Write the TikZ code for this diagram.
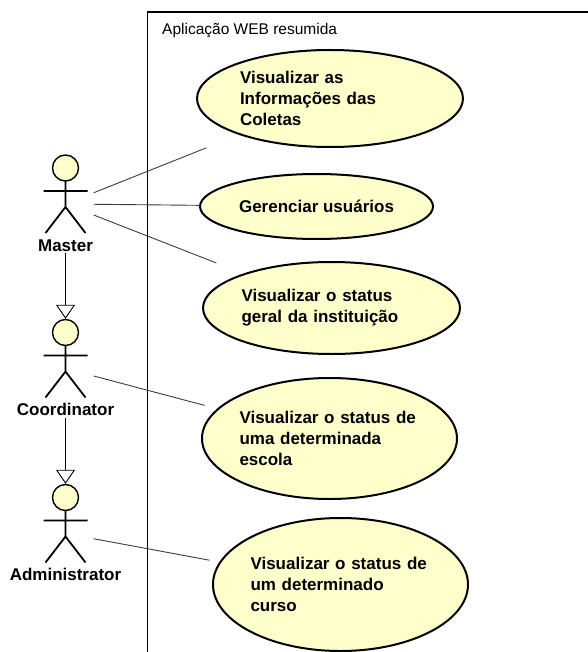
\documentclass[tikz,border=0pt]{standalone}
\usepackage{fontspec}
\setmainfont{Liberation Sans}
\usetikzlibrary{shapes, arrows.meta, positioning}
\definecolor{ucfill}{RGB}{255,255,204}
\definecolor{assocgray}{RGB}{60,60,60}

\begin{document}
\begin{tikzpicture}[
x=1pt, y=-1pt,
usecase/.style={ellipse, draw=black, line width=2pt, fill=ucfill, inner sep=0pt,
font=\fontsize{17}{21}\selectfont\bfseries},
usecase-long/.style={usecase, text width=180pt, align=left},
head/.style={circle, draw=black, line width=1.4pt, fill=ucfill, minimum size=26pt, inner sep=0pt},
actor-body/.style={rectangle, minimum width=56pt, minimum height=80pt},
actor-name/.style={anchor=base, inner sep=2pt, font=\fontsize{17}{21}\selectfont\bfseries},
stick/.style={draw, line width=1.8pt},
actor/.pic={
\node [head] (-head) at (0,0) {};
\node [actor-body] (-body) at (0,36) {};
\node [actor-name] (-label) at (0,83) {#1};
\draw [stick] (0,13) -- (0,39) (-22,23) -- (22,23) (-20,65) -- (0,39) -- (20,65);
},
assoc/.style={draw=assocgray, line width=0.9pt},
gen/.style={draw, line width=0.9pt, -{Triangle[open, length=14pt, width=19pt]}},
boundary/.style={draw, line width=1.2pt},
title/.style={anchor=base west, inner sep=0pt, font=\fontsize{15.5}{18}\selectfont}
]
\useasboundingbox (0,0) rectangle (587,652);

\draw [boundary] (590,12) -| (147.5,655);
\node [title] (title) at (162,35) {Aplicação WEB resumida};

\pic (master) at (65.5,168) {actor=Master};
\pic (coordinator) at (65.5,332.5) {actor=Coordinator};
\pic (administrator) at (65.5,497.5) {actor=Administrator};

\node [usecase-long, minimum width=266pt, minimum height=97pt] (uc-info) at (330,98.5)
{Visualizar as\\Informações das\\Coletas};
\node [usecase, minimum width=233pt, minimum height=65pt, below=25pt of uc-info, xshift=-13.5pt] (uc-users)
{Gerenciar usuários};
\node [usecase-long, minimum width=257pt, minimum height=92pt, below=21pt of uc-users, xshift=15pt] (uc-status)
{Visualizar o status\\geral da instituição};
\node [usecase-long, minimum width=255pt, minimum height=121pt, below=22pt of uc-status, xshift=-2pt] (uc-school)
{Visualizar o status de\\uma determinada\\escola};
\node [usecase-long, minimum width=255pt, minimum height=133pt, below=17pt of uc-school, xshift=11pt] (uc-course)
{Visualizar o status de\\um determinado\\curso};

\draw [assoc, shorten >=35pt] (master-body) -- (uc-info);
\draw [assoc] (master-body) -- (uc-users);
\draw [assoc, shorten >=29pt] (master-body) -- (uc-status);
\draw [assoc, shorten >=13pt] (coordinator-body) -- (uc-school);
\draw [assoc, shorten >=10pt] (administrator-body) -- (uc-course);

\draw [gen] (master-label) -- (coordinator-head);
\draw [gen] (coordinator-label) -- (administrator-head);

\end{tikzpicture}
\end{document}
